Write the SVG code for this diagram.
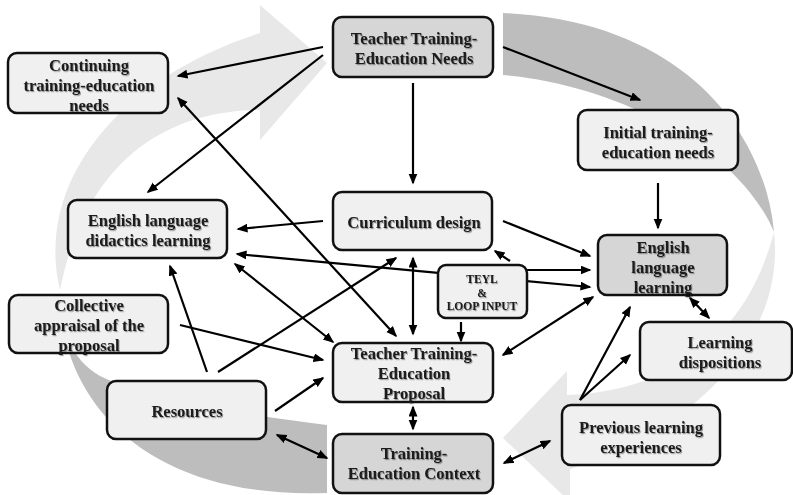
<svg xmlns="http://www.w3.org/2000/svg" width="793" height="495" viewBox="0 0 793 495">
  <defs>
    <marker id="ah" markerUnits="userSpaceOnUse" markerWidth="12" markerHeight="10" refX="9.5" refY="4.5" orient="auto-start-reverse">
      <path d="M0,0 L11,4.5 L0,9 Z" fill="#000"/>
    </marker>
    <filter id="ts" x="-10%" y="-20%" width="120%" height="150%">
      <feDropShadow dx="1" dy="1.2" stdDeviation="0.6" flood-color="#000" flood-opacity="0.35"/>
    </filter>
  </defs>
  <style>
    .front { fill: #e8e8e8; }
    .back { fill: #bdbdbd; }
    .box { fill: #f0f0f0; stroke: #111; stroke-width: 2.5; }
    .box.key { fill: #d6d6d6; }
    .lbl { font-family: "Liberation Serif", "Times New Roman", serif; font-weight: bold; font-size: 16.5px; fill: #1a1a1a; text-anchor: middle; filter: url(#ts); }
    .lbl.small { font-size: 11.5px; }
    .cn line { stroke: #000; stroke-width: 2.2; fill: none; }
  </style>

  <!-- background: two curved ribbon arrows forming a cycle -->
  <g id="cycle">
    <!-- left arrow: back fold along the bottom, front band up to a head pointing right -->
    <path class="back" d="M60,290 C58,395 140,500 327,493 L327,425 C250,415 150,400 100,376 C72,360 60,330 60,290 Z"/>
    <path class="front" d="M60,290 A360,242 0 0 1 260,33 L260,5 L327,63 L260,140 L260,110 C190,110 90,140 60,290 Z"/>
    <!-- right arrow: back fold along the top, front band down to a head pointing left -->
    <path class="back" d="M774,232 C765,130 680,20 503,13 L503,75 C620,85 740,150 774,232 Z"/>
    <path class="front" d="M774,232 A360,242 0 0 1 570,469 L570,502 L503,438 L567,371 L567,395 C640,392 740,362 774,232 Z"/>
  </g>

  <!-- connectors -->
  <g id="connectors" class="cn">
    <line x1="323" y1="47" x2="178" y2="76" marker-end="url(#ah)"/>
    <line x1="323" y1="55" x2="148" y2="192" marker-end="url(#ah)"/>
    <line x1="503" y1="47" x2="640" y2="100" marker-end="url(#ah)"/>
    <line x1="413" y1="83" x2="413" y2="183" marker-end="url(#ah)"/>
    <line x1="658" y1="183" x2="658" y2="228" marker-end="url(#ah)"/>
    <line x1="323" y1="221" x2="238" y2="229" marker-end="url(#ah)"/>
    <line x1="503" y1="221" x2="590" y2="256" marker-end="url(#ah)"/>
    <line x1="510" y1="261" x2="495" y2="251" marker-end="url(#ah)"/>
    <line x1="237" y1="254" x2="590" y2="287" marker-start="url(#ah)" marker-end="url(#ah)"/>
    <line x1="526" y1="270" x2="590" y2="270" marker-end="url(#ah)"/>
    <line x1="461" y1="322" x2="461" y2="341" marker-end="url(#ah)"/>
    <line x1="593" y1="297" x2="503" y2="355" marker-start="url(#ah)" marker-end="url(#ah)"/>
    <line x1="413" y1="258" x2="413" y2="334" marker-start="url(#ah)" marker-end="url(#ah)"/>
    <line x1="178" y1="98" x2="396" y2="336" marker-start="url(#ah)" marker-end="url(#ah)"/>
    <line x1="235" y1="264" x2="333" y2="342" marker-start="url(#ah)" marker-end="url(#ah)"/>
    <line x1="180" y1="325" x2="323" y2="360" marker-end="url(#ah)"/>
    <line x1="207" y1="372" x2="170" y2="266" marker-end="url(#ah)"/>
    <line x1="218" y1="372" x2="396" y2="258" marker-end="url(#ah)"/>
    <line x1="275" y1="411" x2="323" y2="378" marker-end="url(#ah)"/>
    <line x1="277" y1="435" x2="327" y2="458" marker-start="url(#ah)" marker-end="url(#ah)"/>
    <line x1="413" y1="407" x2="413" y2="429" marker-start="url(#ah)" marker-end="url(#ah)"/>
    <line x1="504" y1="463" x2="550" y2="441" marker-start="url(#ah)" marker-end="url(#ah)"/>
    <line x1="580" y1="400" x2="630" y2="307" marker-end="url(#ah)"/>
    <line x1="580" y1="400" x2="630" y2="355" marker-end="url(#ah)"/>
    <line x1="690" y1="298" x2="709" y2="318" marker-start="url(#ah)" marker-end="url(#ah)"/>
  </g>

  <!-- nodes -->
  <g id="needs">
    <rect class="box key" x="333" y="17" width="160" height="60" rx="9"/>
    <text class="lbl" x="414" y="44">Teacher Training-</text>
    <text class="lbl" x="414" y="64">Education Needs</text>
  </g>
  <g id="continuing">
    <rect class="box" x="8" y="53" width="160" height="60" rx="9"/>
    <text class="lbl" x="89" y="71">Continuing</text>
    <text class="lbl" x="89" y="91">training-education</text>
    <text class="lbl" x="89" y="111">needs</text>
  </g>
  <g id="initial">
    <rect class="box" x="578" y="110" width="160" height="60" rx="9"/>
    <text class="lbl" x="658" y="138">Initial training-</text>
    <text class="lbl" x="658" y="158">education needs</text>
  </g>
  <g id="didactics">
    <rect class="box" x="68" y="200" width="159" height="58" rx="9"/>
    <text class="lbl" x="148" y="226">English language</text>
    <text class="lbl" x="148" y="246">didactics learning</text>
  </g>
  <g id="curriculum">
    <rect class="box" x="333" y="192" width="159" height="58" rx="9"/>
    <text class="lbl" x="414" y="228">Curriculum design</text>
  </g>
  <g id="teyl">
    <rect class="box" x="438" y="265" width="89" height="53" rx="8"/>
    <text class="lbl small" x="482" y="283">TEYL</text>
    <text class="lbl small" x="482" y="297">&amp;</text>
    <text class="lbl small" x="482" y="310">LOOP INPUT</text>
  </g>
  <g id="english-learning">
    <rect class="box key" x="598" y="235" width="129" height="60" rx="9"/>
    <text class="lbl" x="663" y="253">English</text>
    <text class="lbl" x="663" y="273">language</text>
    <text class="lbl" x="663" y="293">learning</text>
  </g>
  <g id="dispositions">
    <rect class="box" x="640" y="322" width="152" height="58" rx="9"/>
    <text class="lbl" x="720" y="348">Learning</text>
    <text class="lbl" x="720" y="368">dispositions</text>
  </g>
  <g id="previous">
    <rect class="box" x="562" y="405" width="158" height="60" rx="9"/>
    <text class="lbl" x="641" y="433">Previous learning</text>
    <text class="lbl" x="641" y="453">experiences</text>
  </g>
  <g id="appraisal">
    <rect class="box" x="9" y="295" width="159" height="58" rx="9"/>
    <text class="lbl" x="89" y="311">Collective</text>
    <text class="lbl" x="89" y="331">appraisal of the</text>
    <text class="lbl" x="89" y="351">proposal</text>
  </g>
  <g id="resources">
    <rect class="box" x="107" y="381" width="159" height="58" rx="9"/>
    <text class="lbl" x="187" y="417">Resources</text>
  </g>
  <g id="proposal">
    <rect class="box" x="333" y="343" width="160" height="59" rx="9"/>
    <text class="lbl" x="414" y="359">Teacher Training-</text>
    <text class="lbl" x="414" y="379">Education</text>
    <text class="lbl" x="414" y="399">Proposal</text>
  </g>
  <g id="context">
    <rect class="box key" x="333" y="434" width="160" height="59" rx="9"/>
    <text class="lbl" x="414" y="459">Training-</text>
    <text class="lbl" x="414" y="479">Education Context</text>
  </g>
</svg>
